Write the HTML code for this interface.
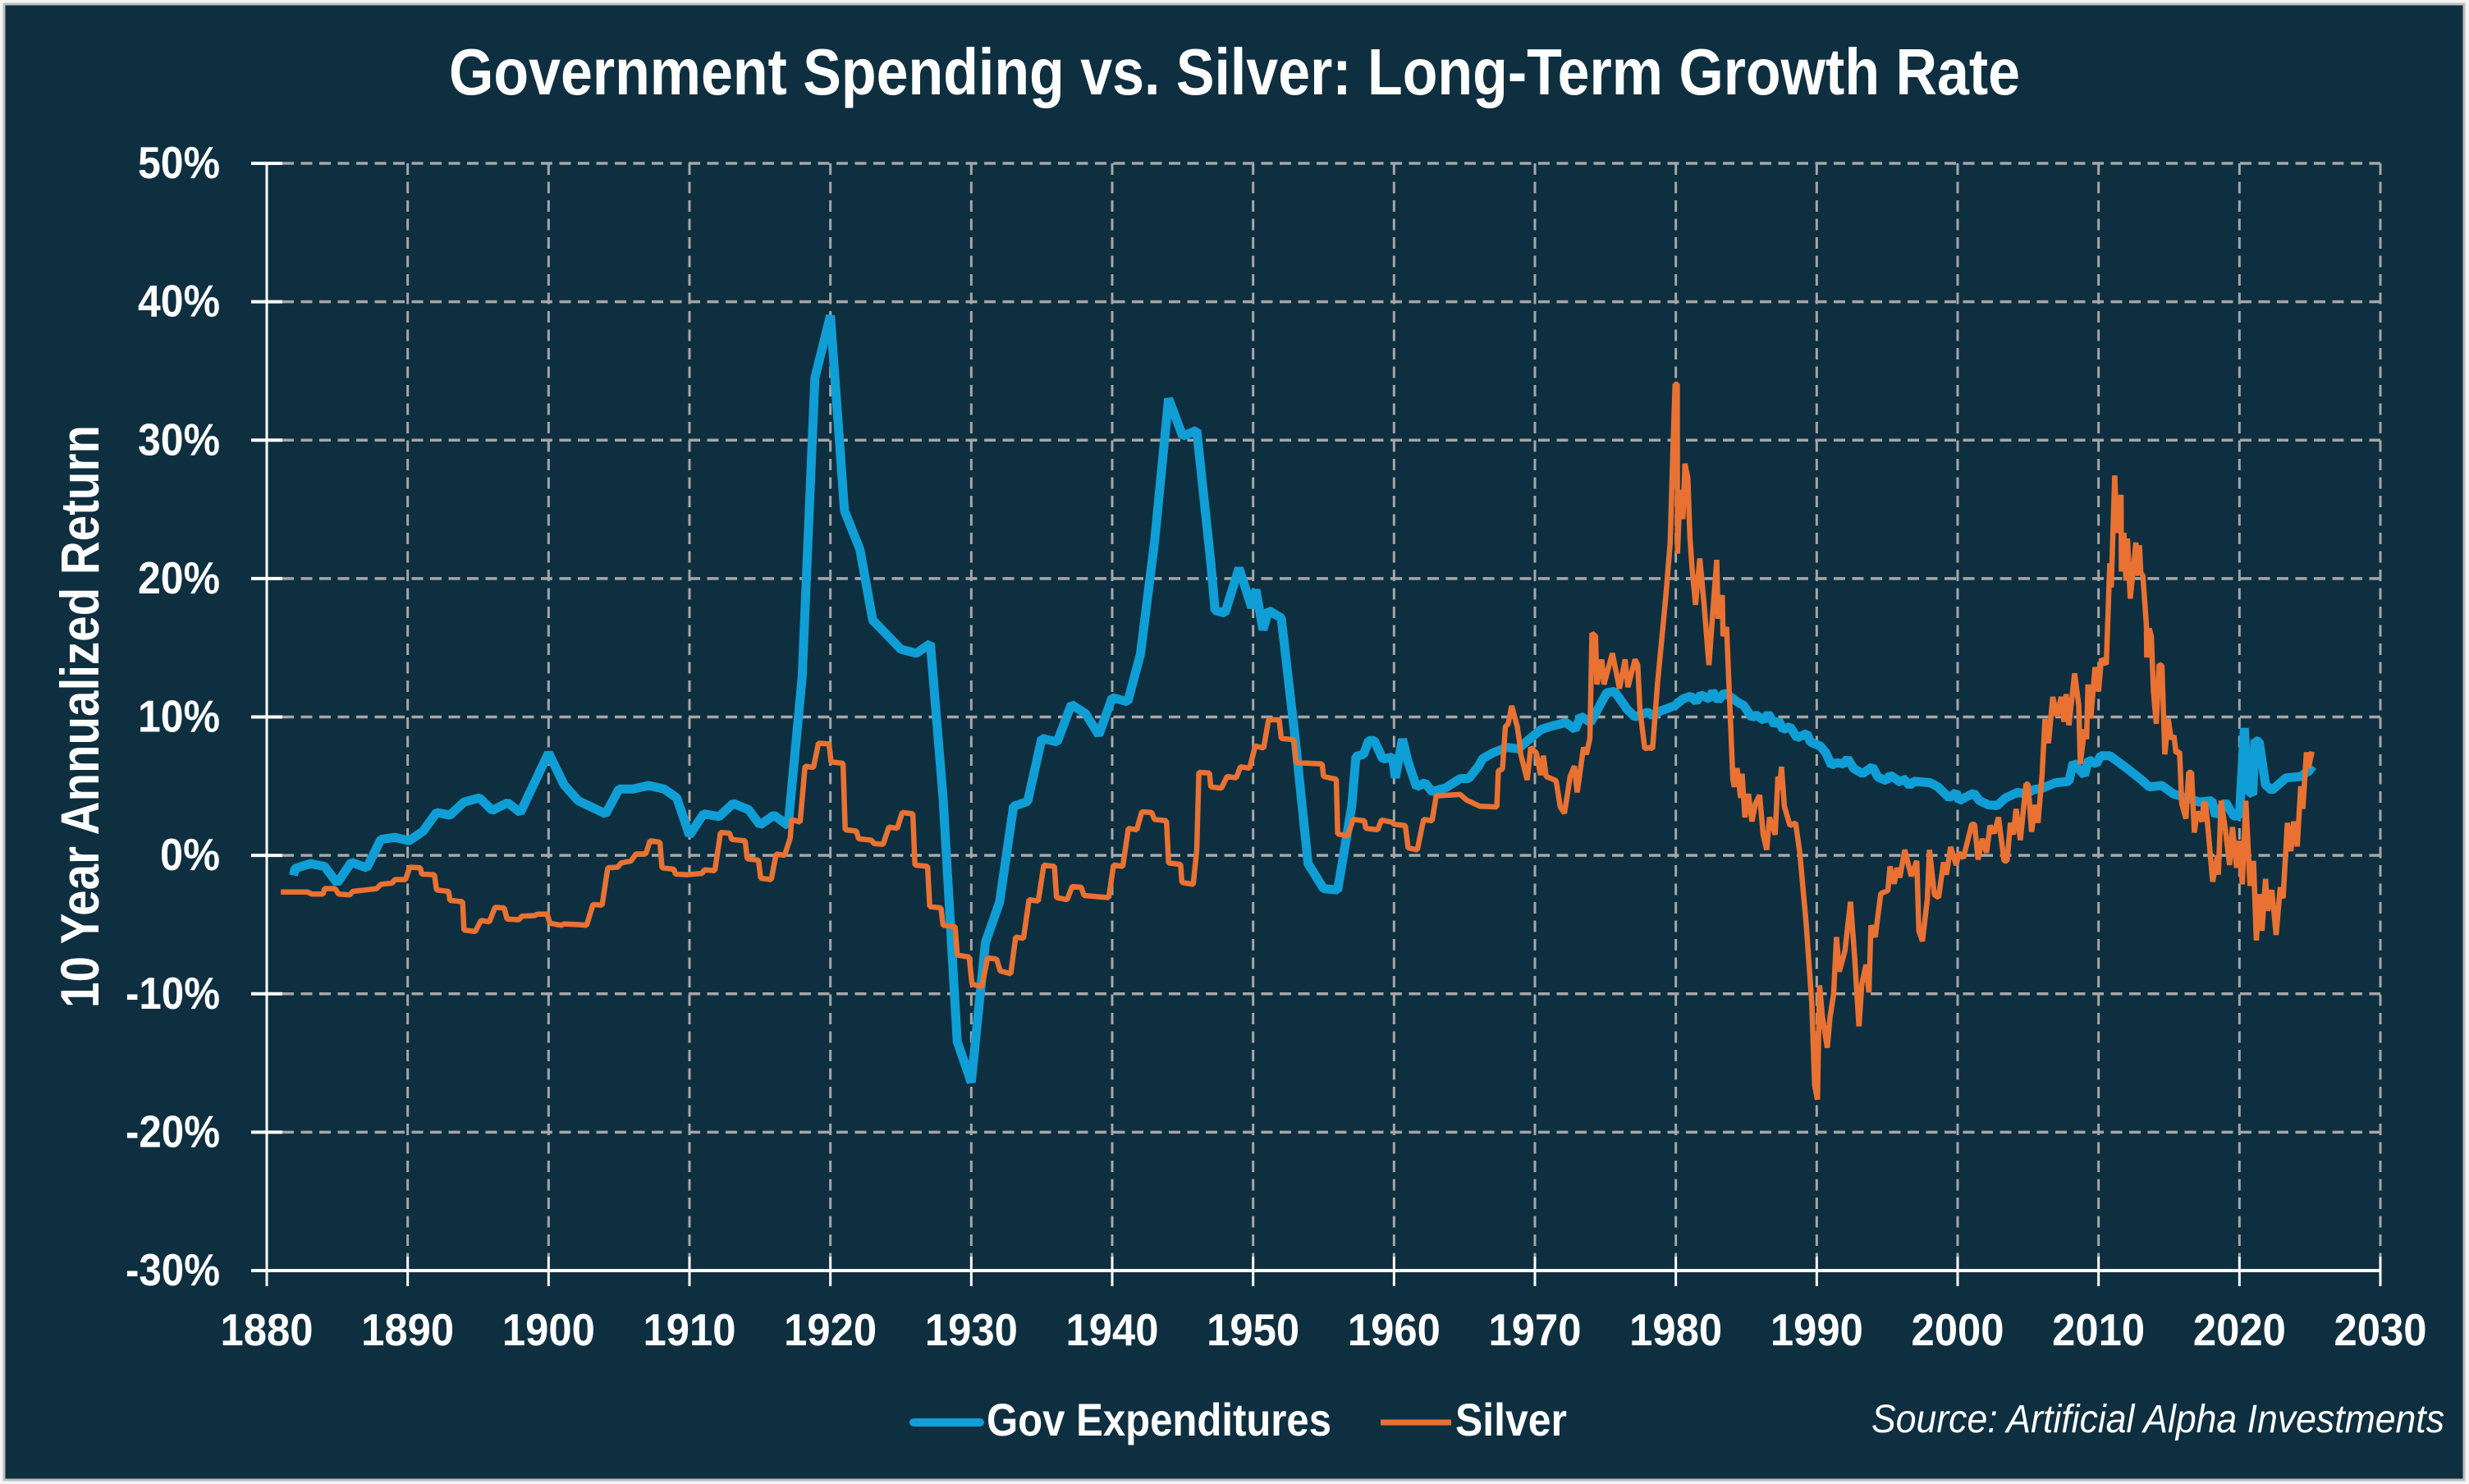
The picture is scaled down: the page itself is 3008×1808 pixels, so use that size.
<!DOCTYPE html>
<html>
<head>
<meta charset="utf-8">
<title>Government Spending vs. Silver: Long-Term Growth Rate</title>
<style>
html,body{margin:0;padding:0;background:#f4f4f4;}
svg{display:block;}
text{font-family:"Liberation Sans",Arial,sans-serif;fill:#fff;}
</style>
</head>
<body>
<svg id="chart" xmlns="http://www.w3.org/2000/svg" width="3008" height="1808" viewBox="0 0 3008 1808">
  <rect x="5" y="5" width="2997" height="1798" fill="#0E2F40" stroke="#bdbdbd" stroke-width="3"/>
  <text x="547" y="115" font-size="80" font-weight="700" textLength="1914" lengthAdjust="spacingAndGlyphs">Government Spending vs. Silver: Long-Term Growth Rate</text>
  <text transform="translate(120,873) rotate(-90)" text-anchor="middle" font-size="66" font-weight="700" textLength="710" lengthAdjust="spacingAndGlyphs">10 Year Annualized Return</text>
  <g id="grid"></g>
  <g id="axes"></g>
  <g id="series"></g>
  <g>
    <line x1="1113" y1="1733" x2="1194" y2="1733" stroke="#0F9ED5" stroke-width="10" stroke-linecap="round"/>
    <text x="1202" y="1749" font-size="56" font-weight="700" textLength="420" lengthAdjust="spacingAndGlyphs">Gov Expenditures</text>
    <line x1="1682" y1="1733" x2="1768" y2="1733" stroke="#E97132" stroke-width="7"/>
    <text x="1773" y="1749" font-size="56" font-weight="700" textLength="136" lengthAdjust="spacingAndGlyphs">Silver</text>
  </g>
  <text x="2280" y="1745" font-size="48" font-style="italic" textLength="698" lengthAdjust="spacingAndGlyphs">Source: Artificial Alpha Investments</text>
</svg>
<script>
const xTickLabels = [1880,1890,1900,1910,1920,1930,1940,1950,1960,1970,1980,1990,2000,2010,2020,2030];
const yTickLabels = [50,40,30,20,10,0,-10,-20,-30];

const govYears = [1881.9,1882,1883.1,1884.1,1885,1886,1887.1,1888.1,1889.1,1890.1,1891.1,1892.05,1893,1894,1895.1,1896,1897.1,1898,1900,1901.1,1902.1,1904.05,1905,1906,1907.1,1908.2,1909.1,1910,1911,1912.1,1913.1,1914.2,1915,1916,1917,1918,1918.9,1920,1921,1922.1,1923,1925,1926.1,1927.1,1928,1929,1930,1931,1932,1933,1934,1935,1936.1,1937.1,1938.1,1939.05,1940,1941.1,1942,1943,1944,1945,1946,1947,1947.3,1948,1949,1949.9,1950.2,1950.7,1951.1,1952,1953,1953.9,1955,1956,1957,1957.3,1957.85,1958.2,1958.6,1959.2,1959.9,1960.1,1960.6,1961,1961.6,1962.2,1962.7,1963.7,1964.7,1965.3,1966,1966.3,1967,1968,1968.8,1969.9,1970.45,1971.05,1972.2,1972.85,1973.25,1973.95,1975.1,1975.65,1976.55,1977.1,1978,1978.35,1978.95,1979.9,1980.5,1981.05,1981.45,1981.75,1982.4,1982.6,1983,1983.45,1984.5,1984.8,1985.4,1985.7,1986.25,1986.55,1987,1987.3,1987.6,1988.1,1988.6,1989.3,1989.55,1990.25,1990.65,1991.05,1991.4,1991.9,1992.2,1992.6,1993.25,1993.95,1994.35,1994.95,1995.2,1996,1996.1,1996.6,1996.9,1998.05,1998.6,1999.4,1999.9,2000.1,2001.15,2001.55,2002.2,2002.8,2003.4,2004.25,2004.85,2005.4,2006,2006.95,2007.9,2008.2,2009,2009.3,2009.85,2010.15,2010.8,2012,2013,2013.6,2014.5,2015.3,2016.3,2017.15,2018.05,2018.3,2019,2019.6,2020,2020.35,2020.6,2020.95,2021.1,2021.4,2021.85,2022.3,2023.3,2024.35,2025,2025.25];
const govValues = [-1.45,-0.95,-0.6,-0.8,-2.0,-0.5,-0.9,1.15,1.3,1.05,1.75,3.1,2.9,3.85,4.15,3.25,3.8,3.1,7.4,5.1,3.95,3.0,4.8,4.8,5.05,4.8,4.15,1.45,3.0,2.8,3.75,3.3,2.2,2.9,2.15,12.9,34.5,39,24.9,22.1,17.0,14.9,14.6,15.3,4.1,-13.45,-16.4,-6.3,-3.4,3.55,3.9,8.45,8.2,10.9,10.25,8.7,11.4,11.1,14.5,22.6,33.0,30.3,30.7,21.1,17.7,17.5,20.75,17.9,19.2,16.3,17.7,17.15,8.3,-0.6,-2.4,-2.5,3.55,7.15,7.3,8.3,8.3,6.95,7.1,5.6,8.4,6.75,4.95,5.25,4.6,4.9,5.55,5.55,6.45,7.0,7.4,7.8,7.7,8.65,9.1,9.3,9.6,9.1,10.05,9.6,11.75,11.85,10.55,10,10.35,10.1,10.45,10.8,11.3,11.5,11.1,11.6,11.3,11.85,11.2,11.75,11,10.85,9.95,10.15,9.75,10.25,9.45,9.75,9.1,9.3,8.5,8.8,8.2,7.9,7.4,6.5,6.7,6.6,7.0,6.3,5.9,6.4,5.65,5.4,5.8,5.25,5.6,5.05,5.35,5.25,4.95,4.15,4.55,3.95,4.5,3.95,3.65,3.6,4.15,4.55,4.45,4.75,4.85,5.25,5.35,6.7,5.8,6.9,6.6,7.2,7.2,6.3,5.5,4.95,5.05,4.45,4.15,3.85,3.95,2.85,3.85,2.85,2.85,9.2,4.7,4.4,8.3,8.2,5.1,4.7,5.6,5.7,6.2,6.0];

const silverYears = [1881,1882.9,1883.2,1884,1884.1,1884.85,1885.1,1885.9,1886.1,1887,1887.8,1888.1,1888.9,1889.1,1889.85,1890.15,1890.9,1891,1891.9,1892.05,1892.9,1893,1893.9,1894,1894.8,1895.2,1895.8,1896.2,1896.85,1897.05,1897.9,1898.1,1899,1899.2,1899.9,1900.1,1900.9,1901.1,1902,1902.7,1903.15,1903.8,1904.2,1904.9,1905.15,1905.85,1906.2,1906.9,1907.2,1907.9,1908.05,1908.9,1909,1909.85,1910.9,1911.05,1911.8,1912.2,1912.85,1913,1913.95,1914.1,1914.9,1915.05,1915.8,1916.15,1916.75,1917.15,1917.25,1917.85,1918.2,1918.8,1919.15,1919.9,1920.05,1920.9,1921.05,1921.85,1922,1922.9,1923.1,1923.75,1924.15,1924.75,1925.1,1925.85,1926,1926.9,1927.05,1927.85,1928,1928.85,1929,1929.85,1930.05,1930.75,1931.15,1931.8,1932.05,1932.8,1933.15,1933.7,1934.1,1934.75,1935.15,1935.9,1936.05,1936.8,1937.15,1937.8,1938,1939.75,1940.1,1940.75,1941.15,1941.75,1942.1,1942.8,1943,1943.85,1944,1944.85,1944.95,1945.75,1946,1946.15,1946.9,1947,1947.75,1948.15,1948.8,1949.1,1949.75,1950.15,1950.75,1951.1,1951.85,1952,1952.9,1953.05,1954.9,1955,1955.9,1956,1956.7,1957.1,1957.9,1958,1958.85,1959.1,1959.85,1960,1960.8,1961,1961.65,1962.1,1962.7,1963,1964.7,1965.15,1966.1,1967.3,1967.4,1967.7,1967.9,1968.1,1968.35,1968.75,1968.9,1969,1969.45,1969.7,1970.1,1970.4,1970.6,1970.8,1971.05,1971.5,1971.8,1972.1,1972.5,1972.8,1973,1973.45,1973.65,1973.9,1974.05,1974.3,1974.4,1974.75,1974.9,1975.5,1976,1976.4,1976.6,1977.1,1977.3,1977.45,1977.8,1978.15,1978.35,1978.7,1979,1979.3,1979.6,1979.8,1979.95,1980.1,1980.12,1980.3,1980.5,1980.65,1980.85,1981,1981.15,1981.4,1981.7,1982,1982.35,1982.7,1982.9,1983,1983.3,1983.35,1983.6,1983.75,1984.05,1984.15,1984.35,1984.6,1984.7,1984.9,1985.15,1985.4,1985.65,1985.95,1986.2,1986.45,1986.65,1987.05,1987.25,1987.35,1987.5,1987.7,1988.1,1988.5,1988.8,1989.05,1989.25,1989.65,1989.85,1990.05,1990.2,1990.4,1990.75,1990.95,1991.2,1991.4,1991.6,1992,1992.4,1992.7,1992.8,1993,1993.2,1993.5,1993.7,1993.85,1994.15,1994.55,1995.05,1995.2,1995.5,1995.7,1995.9,1996.25,1996.7,1997.1,1997.25,1997.5,1997.85,1998,1998.35,1998.65,1999,1999.2,1999.5,1999.9,2000.1,2000.4,2001,2001.2,2001.45,2001.75,2002.05,2002.3,2002.6,2002.9,2003.3,2003.5,2003.75,2003.95,2004.15,2004.45,2004.85,2005,2005.25,2005.5,2005.7,2006,2006.2,2006.45,2006.75,2007.05,2007.35,2007.55,2007.7,2007.9,2008.3,2008.6,2008.7,2009,2009.15,2009.25,2009.45,2009.75,2010,2010.2,2010.55,2010.8,2010.9,2011.15,2011.3,2011.6,2011.62,2011.8,2011.95,2012.05,2012.25,2012.65,2012.67,2012.9,2013,2013.15,2013.4,2013.42,2013.6,2013.75,2013.9,2014.1,2014.3,2014.5,2014.7,2014.95,2015.15,2015.35,2015.5,2015.75,2015.9,2016.2,2016.4,2016.6,2016.8,2017,2017.35,2017.45,2017.6,2017.8,2018.1,2018.45,2018.5,2018.7,2019,2019.3,2019.5,2019.8,2020,2020.2,2020.45,2020.75,2021,2021.2,2021.4,2021.6,2021.85,2022,2022.3,2022.6,2022.9,2023.1,2023.4,2023.65,2023.85,2024.1,2024.35,2024.5,2024.75,2024.9,2025.15];
const silverValues = [-2.65,-2.65,-2.8,-2.8,-2.4,-2.4,-2.8,-2.85,-2.6,-2.5,-2.4,-2.1,-2.0,-1.75,-1.75,-0.85,-0.9,-1.35,-1.4,-2.5,-2.6,-3.25,-3.35,-5.4,-5.5,-4.7,-4.8,-3.75,-3.8,-4.6,-4.65,-4.4,-4.35,-4.25,-4.25,-4.9,-5.05,-4.95,-5.0,-5.05,-3.55,-3.6,-0.9,-0.85,-0.55,-0.4,0.1,0.1,1.05,0.95,-0.9,-1.0,-1.35,-1.4,-1.3,-1.05,-1.1,1.65,1.6,1.15,1.05,-0.25,-0.35,-1.65,-1.75,0.1,0,1.25,2.6,2.4,6.45,6.35,8.1,8.05,6.75,6.65,1.85,1.75,1.2,1.1,0.85,0.8,2.05,1.95,3.1,3.0,-0.7,-0.8,-3.7,-3.8,-5.05,-5.15,-7.2,-7.35,-9.3,-9.5,-7.4,-7.5,-8.35,-8.55,-5.9,-6.0,-3.2,-3.3,-0.7,-0.8,-3.05,-3.2,-2.25,-2.3,-2.9,-3.05,-0.7,-0.8,1.95,1.85,3.15,3.1,2.6,2.5,-0.55,-0.65,-1.95,-2.1,0.35,6.0,5.95,4.95,4.85,5.7,5.6,6.4,6.3,7.9,7.75,9.8,9.8,8.45,8.35,6.7,6.6,5.7,5.5,1.55,1.4,2.6,2.5,1.95,1.85,2.55,2.4,2.25,2.15,0.55,0.4,2.6,2.5,4.3,4.4,4.0,3.55,3.5,6.1,6.25,9.3,9.5,10.8,9.3,8.25,7.3,5.45,7.8,7.4,5.8,7.2,5.7,5.6,5.4,3.5,3.05,5.7,6.45,4.55,7.8,7.3,8.45,16.05,15.85,12.35,14.15,12.35,14.6,12.05,14.15,12.15,14.15,13.75,10.55,7.7,7.8,7.7,12.45,15.6,18.8,22.6,29.4,34.05,34.05,21.8,26.4,24.3,28.3,27.25,23.05,20.8,18.1,21.45,18.2,13.75,18.6,21.35,17.1,18.8,15.85,16.5,12.9,5.5,4.95,6.3,4.15,5.9,2.75,4.45,2.45,3.75,4.35,1.5,0.4,2.75,1.5,5.7,4.75,6.4,3.55,2.15,2.35,0.2,-2.65,-4.95,-10.65,-16.6,-17.65,-9.4,-11.65,-13.9,-11.65,-10.05,-5.9,-8.4,-6.9,-3.35,-7.5,-9.2,-12.35,-9.3,-7.9,-9.9,-5.05,-5.9,-2.75,-2.55,-0.8,-2.05,-0.9,-1.6,0.4,-1.5,-0.4,-5.45,-6.2,-3.15,0.4,-2.85,-3.05,-0.5,-1.4,0.6,-0.7,0.2,-0.2,2.25,2.25,-0.3,1.2,0.2,2.15,1.6,2.75,-0.4,-0.4,2.35,1.5,3.35,1.1,5.15,5.15,1.7,3.65,2.35,5.9,9.85,8.1,11.45,10.05,11.45,9.65,11.65,9.4,13.15,10.85,6.6,9.1,8.4,12.35,9.9,13.6,11.85,14.2,13.8,21.1,19.35,27.45,23.3,26.05,20.5,23.3,19.85,22.9,18.55,22.6,20.2,22.4,20.4,20.2,16.6,14.3,16.4,15.8,11.85,9.5,13.8,13.7,7.3,9.85,8.4,8.65,7.4,7.5,3.75,2.65,6.0,6.0,1.65,3.15,2.45,3.75,3.75,1.55,-1.9,0,-1.4,3.95,1.85,-0.7,2.05,-0.9,1.05,-2.1,3.95,-2.2,-0.4,-6.15,-2.8,-5.45,-1.7,-4.0,-2.5,-5.75,-2.3,-3.1,2.35,0.3,2.45,0.65,5.0,3.35,7.45,6.3,7.5];

const svgNS = 'http://www.w3.org/2000/svg';
const xMin = 1880, xMax = 2030, yMax = 50, yMin = -30;
const plotLeft = 325, plotRight = 2900, plotTop = 199, plotBottom = 1548;
function xScale(year){ return plotLeft + (year - xMin) / (xMax - xMin) * (plotRight - plotLeft); }
function yScale(val){ return plotTop + (yMax - val) / (yMax - yMin) * (plotBottom - plotTop); }
function make(tag, attrs){
  const el = document.createElementNS(svgNS, tag);
  for (const k in attrs) el.setAttribute(k, attrs[k]);
  return el;
}
function yLabelWidth(v){
  if (v < 0) return 115;
  return v === 0 ? 73 : 100;
}
const grid = document.getElementById('grid');
const axes = document.getElementById('axes');
const series = document.getElementById('series');

yTickLabels.forEach(function(v){
  const y = yScale(v);
  if (v !== yMin) {
    const g = make('line', {x1:344, y1:y, x2:plotRight, y2:y, stroke:'#A6A6A6', 'stroke-width':3.5, 'stroke-dasharray':'14 8.5'});
    
    
    grid.appendChild(g);
  }
  const t = make('line', {x1:306, y1:y, x2:344, y2:y, stroke:'#fff', 'stroke-width':4});
  
  
  axes.appendChild(t);
  const str = v + '%';
  const lab = make('text', {x:268, y:y + 18, 'text-anchor':'end', 'font-size':55, 'font-weight':700, textLength: yLabelWidth(v), lengthAdjust:'spacingAndGlyphs'});
  lab.textContent = str;
  
  
  axes.appendChild(lab);
});

xTickLabels.forEach(function(yr){
  const x = xScale(yr);
  if (yr !== xMin) {
    const g = make('line', {x1:x, y1:plotTop, x2:x, y2:1531, stroke:'#A6A6A6', 'stroke-width':3, 'stroke-dasharray':'14 8.5'});
    
    
    grid.appendChild(g);
  }
  const t = make('line', {x1:x, y1:1531, x2:x, y2:1567, stroke:'#fff', 'stroke-width':3});
  
  
  axes.appendChild(t);
  const lab = make('text', {x:x, y:1639, 'text-anchor':'middle', 'font-size':55, 'font-weight':700, textLength:113, lengthAdjust:'spacingAndGlyphs'});
  lab.textContent = String(yr);
  
  
  axes.appendChild(lab);
});

const yAxisLine = make('line', {x1:plotLeft, y1:plotTop, x2:plotLeft, y2:plotBottom, stroke:'#fff', 'stroke-width':3});


axes.appendChild(yAxisLine);
const xAxisLine = make('line', {x1:306, y1:plotBottom, x2:plotRight, y2:plotBottom, stroke:'#fff', 'stroke-width':4});


axes.appendChild(xAxisLine);

function linePath(xs, ys){
  return xs.map(function(yr, i){
    return (i ? 'L' : 'M') + xScale(yr).toFixed(1) + ' ' + yScale(ys[i]).toFixed(1);
  }).join(' ');
}
const govLine = make('path', {d:linePath(govYears, govValues), fill:'none', stroke:'#0F9ED5', 'stroke-width':11, 'stroke-linejoin':'bevel'});


series.appendChild(govLine);
const silverLine = make('path', {d:linePath(silverYears, silverValues), fill:'none', stroke:'#E97132', 'stroke-width':6.5, 'stroke-linejoin':'bevel'});


series.appendChild(silverLine);
</script>
</body>
</html>
